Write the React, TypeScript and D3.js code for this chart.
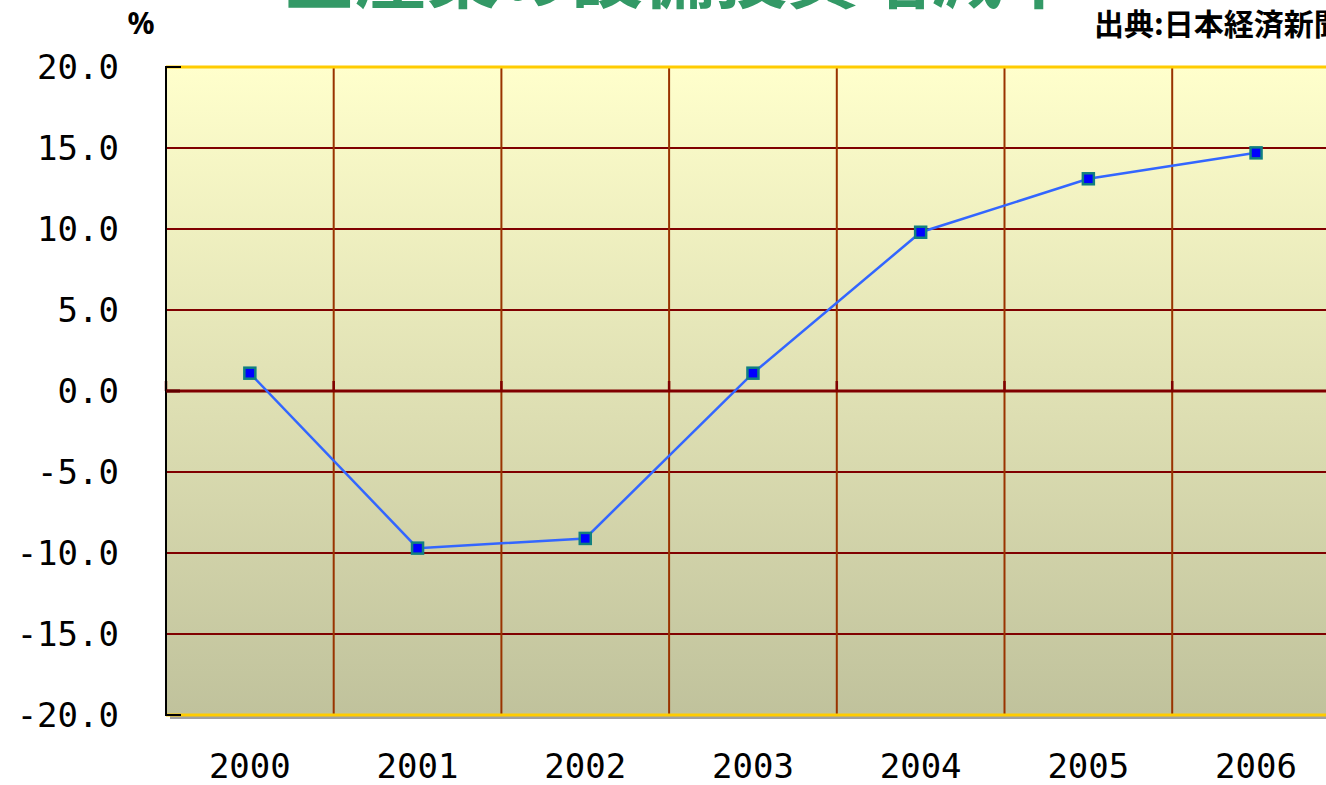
import React from "react";
import * as d3 from "d3";

const years = ["2000", "2001", "2002", "2003", "2004", "2005", "2006"];
const values = [1.1, -9.7, -9.1, 1.1, 9.8, 13.1, 14.7];
const yTicks = [20, 15, 10, 5, 0, -5, -10, -15, -20];
const titleText = "全産業の設備投資増減率";
const sourceText = "出典:日本経済新聞";
const unitText = "%";

const W = 1326;
const H = 785;
const left = 166;
const top = 67;
const bottom = 715;
const bandW = 167.7;
const right = left + bandW * years.length;

export default function App() {
  const x = d3.scaleBand<string>().domain(years).range([left, right]);
  const y = d3.scaleLinear().domain([-20, 20]).range([bottom, top]);
  const cx = (yr: string) => (x(yr) as number) + x.bandwidth() / 2;
  const line = d3
    .line<number>()
    .x((_, i) => cx(years[i]))
    .y((v) => y(v));
  const boundaries = years.slice(1).map((yr) => x(yr) as number);
  const mono = "'DejaVu Sans Mono', monospace";
  return (
    <svg
      width={W}
      height={H}
      style={{ position: "absolute", left: 0, top: 0, display: "block" }}
    >
      <defs>
        <linearGradient id="bg" x1="0" y1="0" x2="0" y2="1">
          <stop offset="0%" stopColor="#FFFFCC" />
          <stop offset="100%" stopColor="#C0C29C" />
        </linearGradient>
      </defs>
      <rect x={0} y={0} width={W} height={H} fill="#ffffff" />
      {/* shadow */}
      <rect x={left + 4} y={top + 4} width={right - left} height={bottom - top} fill="#a0a0a0" />
      <rect x={left} y={top} width={right - left} height={bottom - top} fill="url(#bg)" />
      {/* horizontal gridlines */}
      {yTicks
        .filter((t) => t !== 20 && t !== -20 && t !== 0)
        .map((t) => (
          <line key={"h" + t} x1={left} x2={right} y1={y(t)} y2={y(t)} stroke="#800000" strokeWidth={2} />
        ))}
      {/* vertical gridlines */}
      {boundaries.map((b, i) => (
        <line key={"v" + i} x1={b} x2={b} y1={top} y2={bottom} stroke="#993300" strokeWidth={2} />
      ))}
      {/* gold borders */}
      <line x1={left} x2={right} y1={top} y2={top} stroke="#FFCC00" strokeWidth={3} />
      <line x1={left} x2={right} y1={bottom} y2={bottom} stroke="#FFCC00" strokeWidth={3} />
      {/* zero line */}
      <line x1={left} x2={right} y1={y(0)} y2={y(0)} stroke="#800000" strokeWidth={3} />
      {[left, ...boundaries].map((b, i) => (
        <line key={"zt" + i} x1={b} x2={b} y1={y(0) - 10} y2={y(0)} stroke="#800000" strokeWidth={2.5} />
      ))}
      {/* y axis */}
      <line x1={left} x2={left} y1={top - 1} y2={bottom + 1} stroke="#000" strokeWidth={2} />
      <line x1={left} x2={left + 15} y1={top} y2={top} stroke="#000" strokeWidth={2} />
      <line x1={left} x2={left + 15} y1={bottom} y2={bottom} stroke="#000" strokeWidth={2} />
      <line x1={left} x2={left + 14} y1={y(0)} y2={y(0)} stroke="#600000" strokeWidth={3} />
      {/* y labels */}
      {yTicks.map((t) => (
        <text
          key={"yl" + t}
          x={119}
          y={y(t) + 12}
          textAnchor="end"
          fontFamily={mono}
          fontSize={34}
          fill="#000"
        >
          {t.toFixed(1)}
        </text>
      ))}
      {/* x labels */}
      {years.map((yr) => (
        <text
          key={"xl" + yr}
          x={cx(yr)}
          y={778}
          textAnchor="middle"
          fontFamily={mono}
          fontSize={34}
          fill="#000"
        >
          {yr}
        </text>
      ))}
      {/* data line */}
      <path d={line(values) || ""} fill="none" stroke="#3366FF" strokeWidth={2.5} />
      {values.map((v, i) => (
        <rect
          key={"m" + i}
          x={cx(years[i]) - 5.5}
          y={y(v) - 5.5}
          width={11}
          height={11}
          fill="#0000FF"
          stroke="#118080"
          strokeWidth={2.5}
        />
      ))}
      {/* unit */}
      <text x={141} y={34} textAnchor="middle" fontFamily="'Noto Sans', sans-serif" fontWeight="bold" fontSize={30} fill="#000">
        {unitText}
      </text>
      {/* title (cut off at the top edge, as in the reference) */}
      <text
        x={679}
        y={2}
        textAnchor="middle"
        fontFamily="'Noto Sans CJK JP', sans-serif"
        fontWeight="bold"
        fontSize={72}
        fill="#339966"
      >
        {titleText}
      </text>
      {/* source */}
      <text
        x={1094}
        y={35}
        fontFamily="'Noto Sans CJK JP', sans-serif"
        fontWeight="bold"
        fontSize={30}
        fill="#000"
      >
        {sourceText}
      </text>
    </svg>
  );
}
